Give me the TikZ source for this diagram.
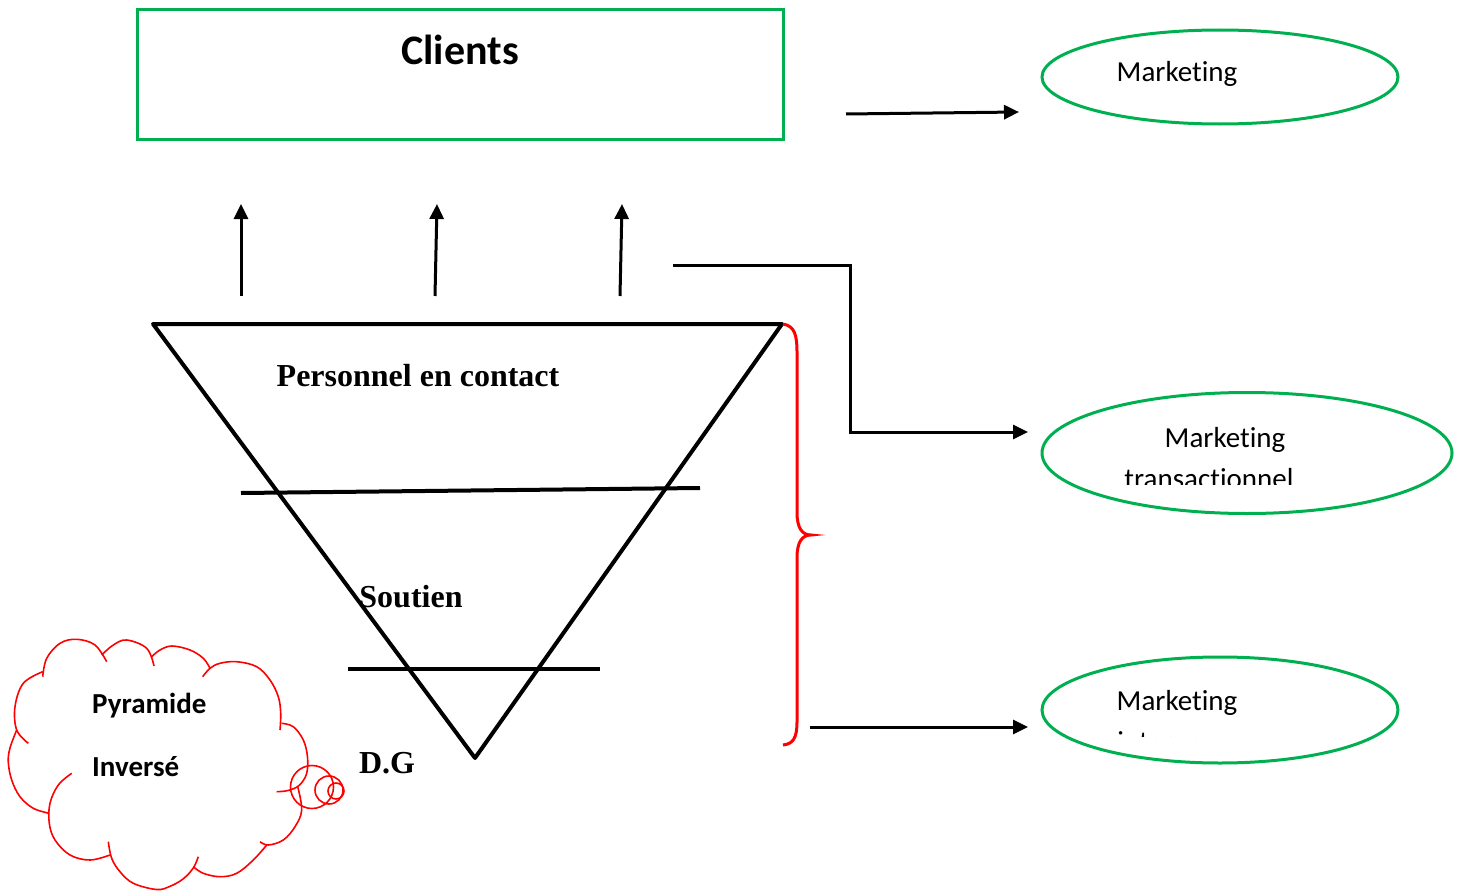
\documentclass[tikz,border=0pt]{standalone}
\usepackage{fontspec}
\setmainfont{Liberation Serif}
\newfontfamily\calib[Ligatures=NoCommon]{Carlito}
\usetikzlibrary{arrows.meta,shapes.geometric}
\definecolor{offgreen}{RGB}{0,176,80}
\tikzset{
  greenbox/.style={draw=offgreen,line width=3pt},
  greenoval/.style={ellipse,draw=offgreen,line width=3pt,inner sep=0pt},
  linkarrow/.style={line width=3pt,-{Triangle[length=15pt,width=14pt]}},
  pyramidline/.style={line width=4pt,line join=round},
  serifbold/.style={font=\fontsize{32}{38}\selectfont\bfseries,inner sep=0pt},
  calibtext/.style={font=\calib\fontsize{29}{36}\selectfont,inner sep=0pt},
  calibbold/.style={font=\calib\fontsize{29}{36}\selectfont\bfseries,inner sep=0pt},
  redline/.style={draw=red,line width=1.6pt},
  puff/.style={redline,smooth,tension=0.6},
}
\begin{document}
\begin{tikzpicture}[x=1pt,y=-1pt]
\useasboundingbox (0,0) rectangle (1462,891);

% clients box
\node[greenbox,minimum width=646pt,minimum height=129pt,inner sep=0pt] (clients) at (460,74.5) {};
\node[font=\calib\fontsize{42}{50}\selectfont\bfseries,inner sep=0pt] (clientslbl) at (460,50) {Clients};

% marketing ovals
\node[greenoval,minimum width=356pt,minimum height=94pt] (mk1) at (1220,77) {};
\node[calibtext] (mk1a) at (1177,74) {Marketing};

\node[greenoval,minimum width=410pt,minimum height=121pt] (mk2) at (1247,453) {};
\node[calibtext] (mk2a) at (1225,440) {Marketing};
\begin{scope}
  \clip (1100,455) rectangle (1330,484);
  \node[calibtext] (mk2b) at (1209,479) {transactionnel};
\end{scope}

\node[greenoval,minimum width=356pt,minimum height=106pt] (mk3) at (1220,710) {};
\node[calibtext] (mk3a) at (1177,703) {Marketing};
\begin{scope}
  \clip (1100,720) rectangle (1300,736.5);
  \node[calibtext] (mk3b) at (1160,742) {interne};
\end{scope}

% connector end points
\coordinate (a1s) at (846,114);  \coordinate (a1e) at (1019,112);
\coordinate (a2s) at (673,265);  \coordinate (a2e) at (1028,432);
\coordinate (a3s) at (810,727);  \coordinate (a3e) at (1028,727);
\coordinate (u1s) at (241,296);  \coordinate (u1e) at (241,204);
\coordinate (u2s) at (435,296);  \coordinate (u2e) at (437,204);
\coordinate (u3s) at (620,296);  \coordinate (u3e) at (622,204);

\draw[linkarrow] (a1s) -- (a1e);
\draw[linkarrow] (a2s) -- (850,265) -- (850,432) -- (a2e);
\draw[linkarrow] (a3s) -- (a3e);
\draw[linkarrow] (u1s) -- (u1e);
\draw[linkarrow] (u2s) -- (u2e);
\draw[linkarrow] (u3s) -- (u3e);

% inverted pyramid
\coordinate (pl) at (153,324);
\coordinate (pr) at (782,324);
\coordinate (pb) at (475,758);
\draw[pyramidline] (pl) -- (pr) -- (pb) -- cycle;
\coordinate (l1a) at (241,493); \coordinate (l1b) at (700,488);
\coordinate (l2a) at (348,669); \coordinate (l2b) at (600,669);
\draw[pyramidline] (l1a) -- (l1b);
\draw[pyramidline] (l2a) -- (l2b);

\node[serifbold] (pers) at (418,376) {Personnel en contact};
\node[serifbold] (sout) at (411,597) {Soutien};
\node[serifbold] (dg) at (387,763) {D.G};

% red brace
\draw[red,line width=3pt]
  (783,324) .. controls (795,326) and (797,336) .. (797,352)
  -- (797,512) .. controls (797,528) and (802,535) .. (811,535)
  .. controls (802,535) and (797,542) .. (797,558)
  -- (797,722) .. controls (797,738) and (793,744) .. (783,745);

% thought cloud: one arc per puff, ends overlapping
\draw[puff] plot coordinates {(42.7,671.7) (23.3,683.3) (15,706.7) (16.7,730) (28.3,743.3)};
\draw[puff] plot coordinates {(42.7,676.7) (46.7,658.3) (60,643.3) (76.7,639.3) (95,645) (106.7,661.7)};
\draw[puff] plot coordinates {(101.7,655) (113.3,645) (126.7,640) (146.7,648.3) (154,666)};
\draw[puff] plot coordinates {(151.7,656.7) (160,650) (172,646) (190,650) (203.3,658.3) (210,668.3)};
\draw[puff] plot coordinates {(202.7,676.7) (210,668.3) (220,663.3) (236.7,661.7) (256.7,666.7) (270,680) (278.3,696.7) (280.7,713.3) (280,730)};
\draw[puff] plot coordinates {(281.7,723.3) (293.3,726.7) (303.3,740) (307.5,757) (306.5,774) (299,785.5) (288,790.5) (276.7,791.7)};
\draw[puff] plot coordinates {(297.7,786.7) (301.7,810) (295,826.7) (283.3,840) (268.3,845) (260,841.7)};
\draw[puff] plot coordinates {(266.7,845) (253.3,860) (236.7,873.3) (220,876.7) (203.3,873.3) (193.3,866.7)};
\draw[puff] plot coordinates {(198.3,856.7) (193.3,868) (183,879) (170,886.3) (156.7,889.5) (133.3,883.3) (120,871.7) (111.7,858.3) (108.3,841.7)};
\draw[puff] plot coordinates {(110,855) (90,860) (70,855) (55,840) (49.3,823.3) (50,803.3) (58.3,785) (71.7,773.3)};
\draw[puff] plot coordinates {(49.3,813.3) (33.3,808.3) (20,796.7) (11.7,780) (8.3,762) (10,748) (16.7,730)};
\coordinate (cloud) at (158,764);
\draw[redline] (312,787) circle (21.5);
\draw[redline] (329,790) circle (14);
\draw[redline] (336,791) circle (8);
\node[calibbold,anchor=west] (pyr) at (92,706) {Pyramide};
\node[calibbold,anchor=west] (inv) at (92,767) {Inversé};
\end{tikzpicture}
\end{document}
